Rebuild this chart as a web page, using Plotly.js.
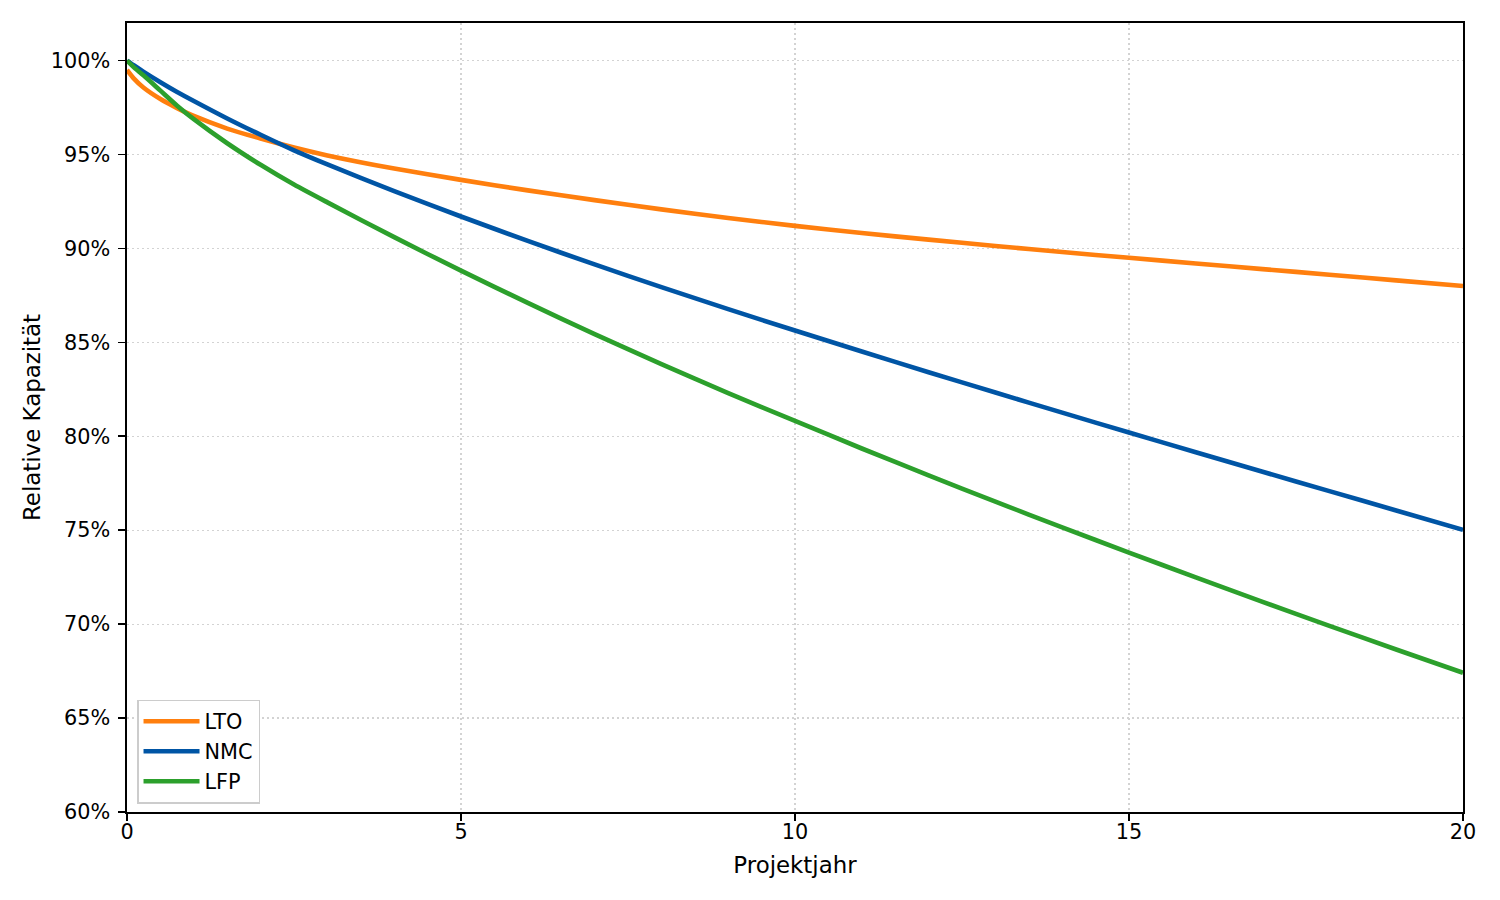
<!DOCTYPE html>
<html>
<head>
<meta charset="utf-8">
<script src="https://cdn.plot.ly/plotly-3.0.1.min.js"></script>
<style>
  html, body { margin: 0; padding: 0; background: #ffffff; }
  #chart { width: 1500px; height: 900px; }
</style>
</head>
<body>
<div id="chart"></div>
<script>
// Project years (x values)
const years = [0, 0.1, 0.25, 0.5, 0.75, 1, 1.5, 2, 2.5, 3, 4, 5, 6, 7, 8, 9, 10, 11, 12, 13, 14, 15, 16, 17, 18, 19, 20];

// Relative capacity in percent
const lto = [99.5, 99.05, 98.55, 97.95, 97.47, 97.05, 96.38, 95.85, 95.37, 94.95, 94.25, 93.65, 93.09, 92.57, 92.08, 91.62, 91.2, 90.82, 90.47, 90.13, 89.81, 89.5, 89.2, 88.9, 88.6, 88.3, 88.0];
const nmc = [100.0, 99.75, 99.4, 98.85, 98.33, 97.85, 96.92, 96.05, 95.22, 94.47, 93.05, 91.7, 90.4, 89.15, 87.94, 86.77, 85.63, 84.51, 83.41, 82.33, 81.26, 80.2, 79.15, 78.11, 77.08, 76.05, 75.02];
const lfp = [100.0, 99.65, 99.2, 98.4, 97.6, 96.88, 95.6, 94.45, 93.4, 92.45, 90.6, 88.82, 87.1, 85.44, 83.84, 82.3, 80.82, 79.35, 77.92, 76.52, 75.15, 73.81, 72.49, 71.19, 69.91, 68.65, 67.41];

const seriesNames = ["LTO", "NMC", "LFP"];
const xTicks = [0, 5, 10, 15, 20];
const yTicks = [60, 65, 70, 75, 80, 85, 90, 95, 100];
const xLabel = "Projektjahr";
const yLabel = "Relative Kapazität";

const colors = ["#ff7f0e", "#0055a5", "#2ca02c"];
const values = [lto, nmc, lfp];

const traces = values.map((v, i) => ({
  x: years,
  y: v,
  type: "scatter",
  mode: "lines",
  name: seriesNames[i],
  line: { color: colors[i], width: 4.6, shape: "spline", smoothing: 0.7 },
  hoverinfo: "skip"
}));

const font = "DejaVu Sans, sans-serif";

const axisCommon = {
  showline: true,
  linecolor: "#000000",
  linewidth: 1.67,
  mirror: true,
  ticks: "outside",
  ticklen: 7,
  tickwidth: 1.67,
  tickcolor: "#000000",
  showgrid: true,
  gridcolor: "#d3d3d3",
  gridwidth: 1.2,
  griddash: "2px,3px",
  zeroline: false,
  tickfont: { family: font, size: 20.8, color: "#000000" }
};

const layout = {
  width: 1500,
  height: 900,
  margin: { l: 127, r: 37, t: 23, b: 88, pad: 0 },
  paper_bgcolor: "#ffffff",
  plot_bgcolor: "#ffffff",
  font: { family: font, color: "#000000" },
  showlegend: true,
  xaxis: Object.assign({}, axisCommon, {
    range: [0, 20],
    tickmode: "array",
    tickvals: xTicks,
    ticktext: xTicks.map(String),
    ticklabelstandoff: -7,
    title: { text: xLabel, font: { family: font, size: 22.9, color: "#000000" }, standoff: 14 },
    automargin: false
  }),
  yaxis: Object.assign({}, axisCommon, {
    range: [60, 102],
    tickmode: "array",
    tickvals: yTicks,
    ticktext: yTicks.map(v => v + "%"),
    ticklabelstandoff: 4,
    title: { text: yLabel, font: { family: font, size: 22.9, color: "#000000" }, standoff: 4 },
    automargin: false
  }),
  legend: {
    x: 0.0075,
    y: 0.0105,
    xanchor: "left",
    yanchor: "bottom",
    bgcolor: "#ffffff",
    bordercolor: "#cccccc",
    borderwidth: 1.5,
    itemwidth: 56,
    font: { family: font, size: 20.8, color: "#000000" },
    traceorder: "normal"
  }
};

Plotly.newPlot("chart", traces, layout, { displayModeBar: false, staticPlot: true });
</script>
</body>
</html>
